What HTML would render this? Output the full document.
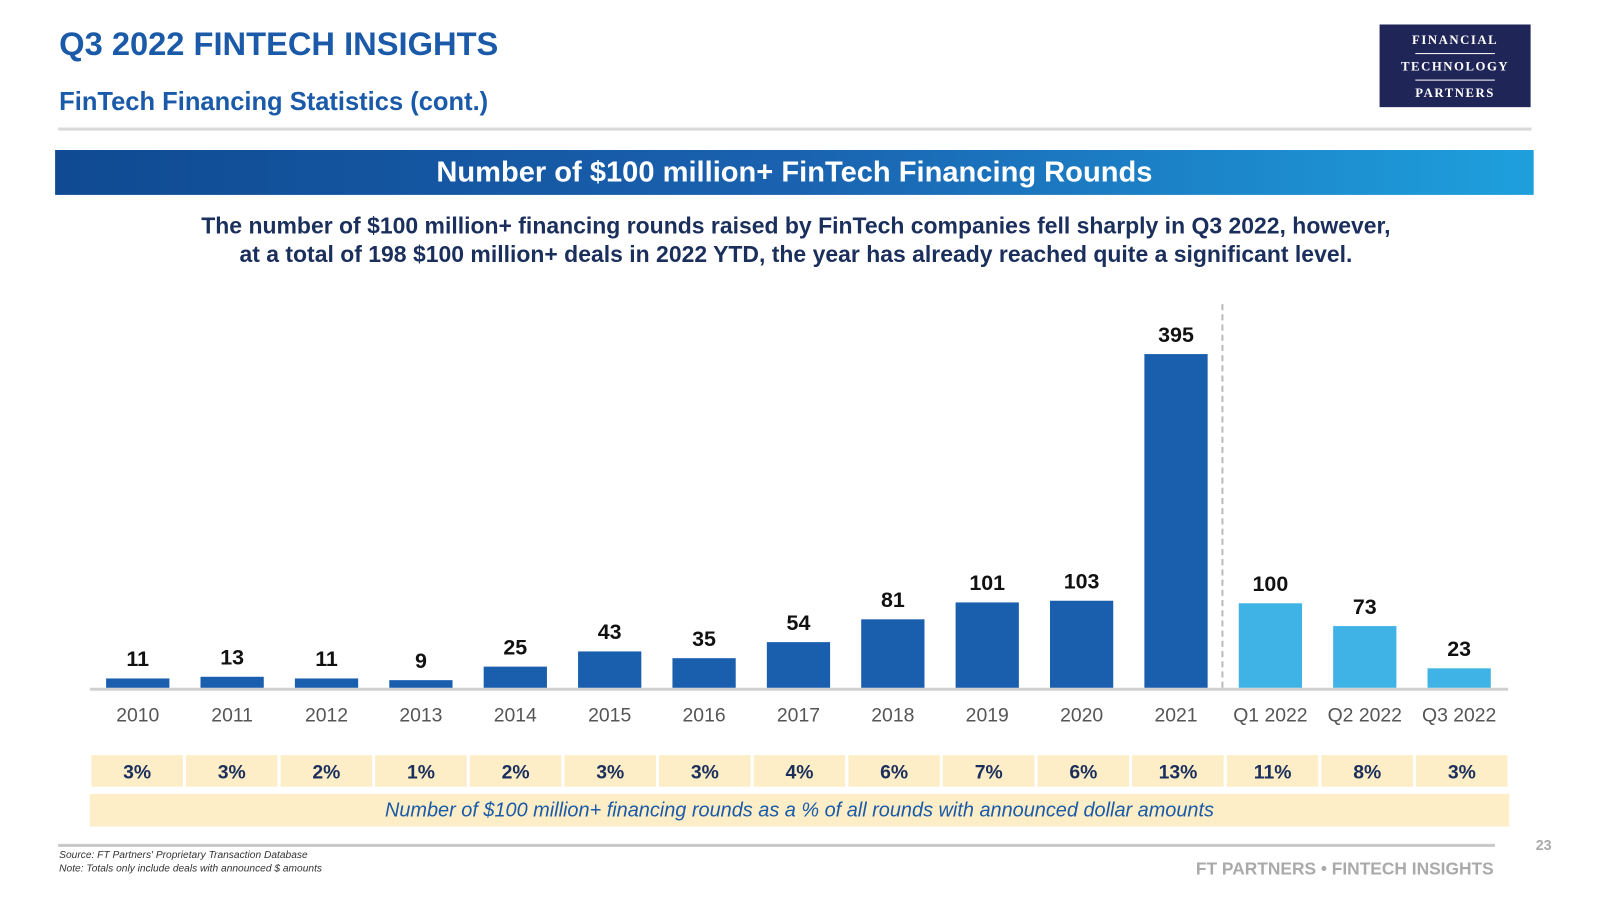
<!DOCTYPE html>
<html><head><meta charset="utf-8"><style>
body{margin:0;width:1600px;height:900px;background:#fff;font-family:"Liberation Sans",sans-serif;position:relative;overflow:hidden}
#wrap{position:absolute;left:0;top:0;width:1600px;height:900px;transform:scale(1.0204);transform-origin:0 0}
.a{position:absolute}
</style></head><body><div id="wrap">
<div class="a" style="left:58px;top:25px;font-size:32px;font-weight:bold;color:#1a5aa8">Q3 2022 FINTECH INSIGHTS</div>
<div class="a" style="left:58px;top:86px;font-size:25px;font-weight:bold;color:#1a5aa8">FinTech Financing Statistics (cont.)</div>
<div class="a" style="left:1352px;top:24px;width:148px;height:81px;background:#1f2556;color:#fff;font-family:'Liberation Serif',serif;font-weight:bold;font-size:12.5px;letter-spacing:1.5px;text-align:center">
<div style="margin-top:8px">FINANCIAL</div><div style="width:78px;height:1px;background:#fff;margin:5px auto"></div>
<div>TECHNOLOGY</div><div style="width:78px;height:1px;background:#fff;margin:5px auto"></div><div>PARTNERS</div></div>
<div class="a" style="left:57px;top:125px;width:1444px;height:3px;background:#d9d9d9"></div>
<div class="a" style="left:54px;top:147px;width:1449px;height:44px;background:linear-gradient(90deg,#0f4a92,#1a62b0 50%,#1ea0dd);color:#fff;font-size:28.5px;font-weight:bold;text-align:center;line-height:44px">Number of $100 million+ FinTech Financing Rounds</div>
<div class="a" style="left:80px;top:208px;width:1400px;text-align:center;font-size:22.5px;font-weight:bold;color:#1b2f5c;line-height:28px">The number of $100 million+ financing rounds raised by FinTech companies fell sharply in Q3 2022, however,<br>at a total of 198 $100 million+ deals in 2022 YTD, the year has already reached quite a significant level.</div>
<svg class="a" style="left:0;top:0" width="1600" height="900" id="chart"></svg>
<div class="a" style="left:88px;top:778px;width:1391px;height:32px;background:#fdeec7;text-align:center;line-height:32px;font-size:19.5px;font-style:italic;color:#1a5aa8">Number of $100 million+ financing rounds as a % of all rounds with announced dollar amounts</div>
<div class="a" style="left:57px;top:827px;width:1408px;height:3px;background:#c8c8c8"></div>
<div class="a" style="left:58px;top:832px;font-size:10px;font-style:italic;color:#333;line-height:13px">Source: FT Partners' Proprietary Transaction Database<br>Note: Totals only include deals with announced $ amounts</div>
<div class="a" style="left:1172px;top:842px;font-size:17px;font-weight:bold;color:#aaa">FT PARTNERS • FINTECH INSIGHTS</div>
<div class="a" style="left:1505px;top:820px;font-size:14px;font-weight:bold;color:#aaa">23</div>
</div>
<script>
const categories=["2010","2011","2012","2013","2014","2015","2016","2017","2018","2019","2020","2021","Q1 2022","Q2 2022","Q3 2022"];
const counts=[11,13,11,9,25,43,35,54,81,101,103,395,100,73,23];
const percents=["3%","3%","2%","1%","2%","3%","3%","4%","6%","7%","6%","13%","11%","8%","3%"];
const quarterly=[false,false,false,false,false,false,false,false,false,false,false,false,true,true,true];
const svg=document.getElementById('chart');const NS='http://www.w3.org/2000/svg';
const base=674,scale=327/395,x0=135,pitch=92.5,bw=62;
const xc=i=>x0+i*pitch, yv=v=>base-v*scale;
function mk(t,a){const e=document.createElementNS(NS,t);for(const k in a)e.setAttribute(k,a[k]);svg.appendChild(e);return e;}
const ax=mk('line',{x1:88,x2:1478,y1:base+1.5,y2:base+1.5,stroke:'#d0d0d0','stroke-width':3});


const dl=mk('line',{x1:1198,x2:1198,y1:298,y2:676,stroke:'#bbb','stroke-width':2,'stroke-dasharray':'6,4'});


categories.forEach((c,i)=>{
 const r=mk('rect',{x:xc(i)-bw/2,y:yv(counts[i]),width:bw,height:counts[i]*scale,fill:quarterly[i]?'#3fb3e6':'#1a5eae'});
 
 
 const v=mk('text',{x:xc(i),y:yv(counts[i])-12,'text-anchor':'middle','font-size':21,'font-weight':'bold',fill:'#111','font-family':'Liberation Sans'});v.textContent=counts[i];
 
 
 const t=mk('text',{x:xc(i),y:707,'text-anchor':'middle','font-size':19,fill:'#555','font-family':'Liberation Sans'});t.textContent=c;
 
 
 const cx=88+i*92.73;
 const p=mk('rect',{x:cx+1.5,y:740,width:89.7,height:31,fill:'#fdeec7'});
 
 
 const pt=mk('text',{x:cx+46.4,y:763,'text-anchor':'middle','font-size':19,'font-weight':'bold',fill:'#1b2f5c','font-family':'Liberation Sans'});pt.textContent=percents[i];
 
 
});
</script>
</body></html>
